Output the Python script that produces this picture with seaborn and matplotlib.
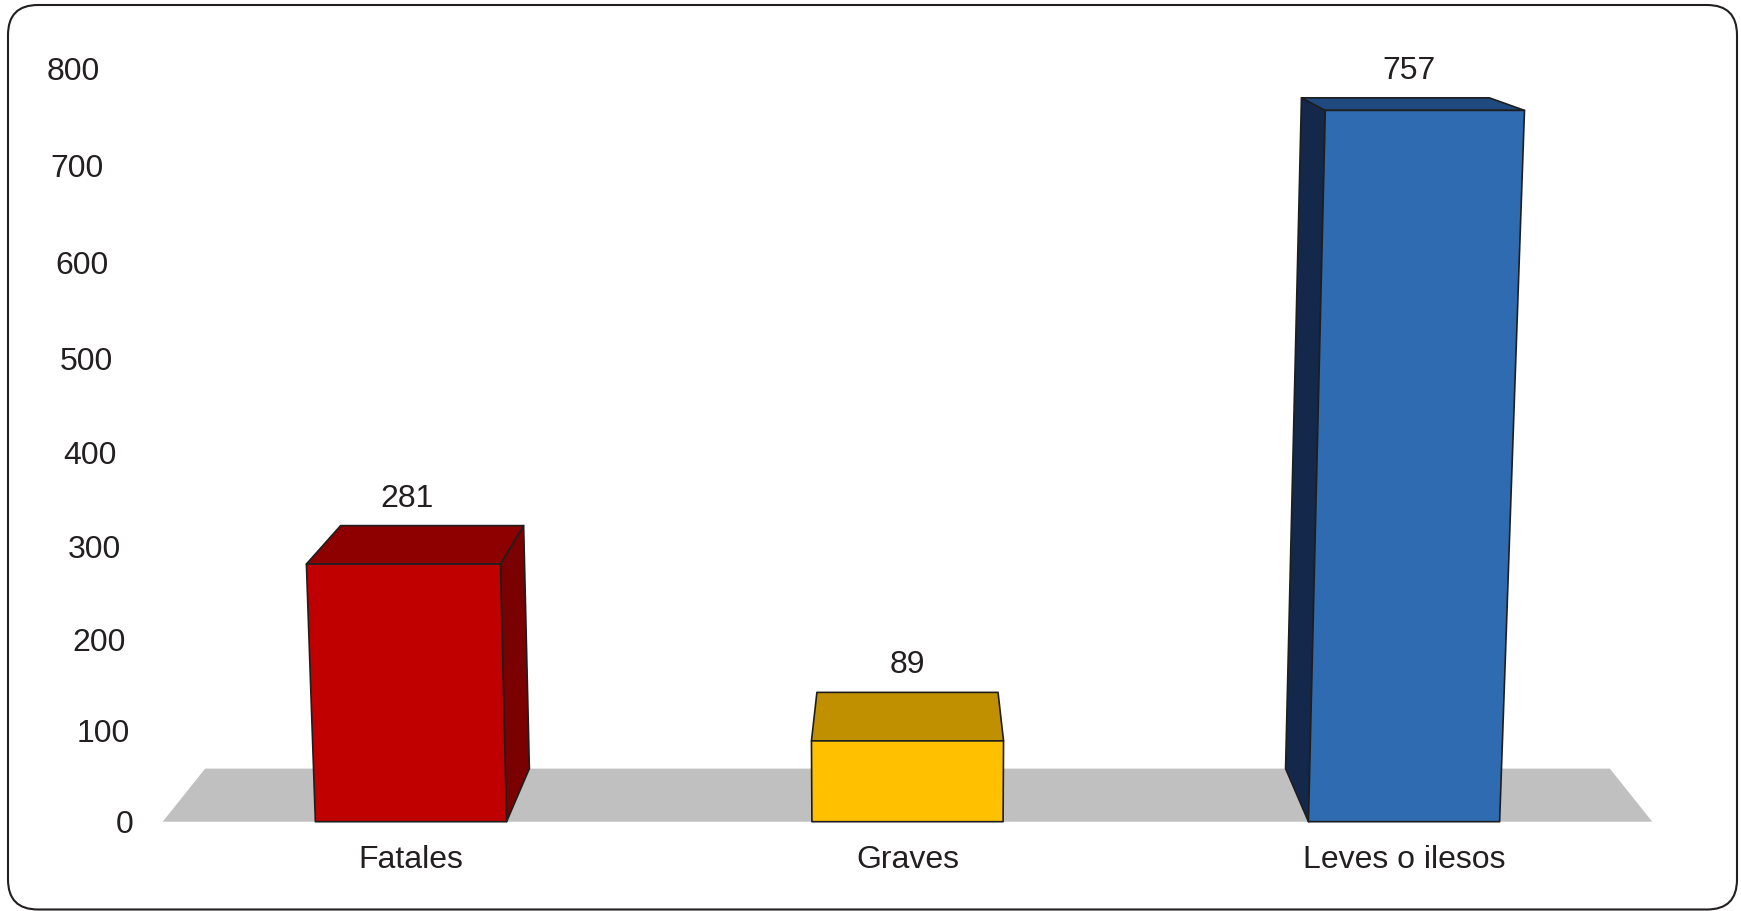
import numpy as np
import pandas as pd
import seaborn as sns
import matplotlib.pyplot as plt
from matplotlib.patches import Polygon, FancyBboxPatch
from matplotlib.transforms import IdentityTransform, Affine2D

# data
categories = ["Fatales", "Graves", "Leves o ilesos"]
values = [281, 89, 757]
y_ticks = [0, 100, 200, 300, 400, 500, 600, 700, 800]

front_colors = ["#C00000", "#FFC000", "#2F6BB0"]
top_colors = ["#8E0000", "#C09000", "#1F4A80"]
side_colors = ["#7B0000", "#A07800", "#13284A"]

W, H, DPI = 1741, 911, 100

# fake 3d perspective (display pixels)
C_PERSP = 5e-5        # foreshortening of the value axis
LEAN = 5.9e-5         # outward lean of vertical edges
DEPTH = 0.943         # back face scale toward the vanishing point
VP = np.array([907.0, H + 110.0])

sns.set_theme(style="white")
plt.rcParams["font.family"] = ["Liberation Sans", "DejaVu Sans"]
text_color = "#231F20"
edge_color = "#1E1E1E"

fig = plt.figure(figsize=(W / DPI, H / DPI), dpi=DPI)
ax = fig.add_axes([162.7 / W, 89.3 / H, 1489.6 / W, 753.4 / H])

df = pd.DataFrame({"tipo": categories, "n": values})
sns.barplot(data=df, x="tipo", y="n", hue="tipo", palette=front_colors,
            width=0.385, legend=False, ax=ax)

ax.set_yscale("function", functions=(lambda v: v / (1 - C_PERSP * v),
                                     lambda u: u / (1 + C_PERSP * u)))
ax.set_xlim(-0.5, 2.5)
ax.set_ylim(0, 800)
ax.set_yticks(y_ticks, labels=[str(t) for t in y_ticks])
ax.set_xlabel("")
ax.set_ylabel("")
ax.grid(False)
for s in ax.spines.values():
    s.set_visible(False)
ax.tick_params(axis="y", length=0, pad=20.7, labelsize=23, labelcolor=text_color)
ax.tick_params(axis="x", length=0, pad=17, labelsize=23, labelcolor=text_color)

base_y = ax.transData.transform((0, 0))[1]


def lean(pts, k=LEAN):
    pts = np.asarray(pts, dtype=float).copy()
    pts[:, 0] = VP[0] + (pts[:, 0] - VP[0]) * (1 + k * (pts[:, 1] - base_y))
    return pts


def push_back(pts):
    return VP + (np.asarray(pts) - VP) * DEPTH


def face(pts, color, edge=True, z=2):
    poly = Polygon(pts, closed=True, facecolor=color,
                   edgecolor=edge_color if edge else "none", lw=1.2,
                   joinstyle="round", transform=IdentityTransform(),
                   clip_on=False, zorder=z)
    ax.add_patch(poly)


# floor
floor_front = ax.transData.transform([(-0.5, 0), (2.5, 0)])
floor_back = push_back(floor_front)
face([floor_front[0], floor_front[1], floor_back[1], floor_back[0]],
     "#C0C0C0", edge=False, z=1)

# bars: front face from seaborn's rectangles, plus side and top faces
for i, p in enumerate(list(ax.patches[:len(values)])):
    x0, w, h = p.get_x(), p.get_width(), p.get_height()
    bl, br, tr, tl = lean(ax.transData.transform(
        [(x0, 0), (x0 + w, 0), (x0 + w, h), (x0, h)]))
    bbl, bbr, btr, btl = push_back([bl, br, tr, tl])
    if br[0] < VP[0]:
        face([br, tr, btr, bbr], side_colors[i])
    elif bl[0] > VP[0]:
        face([bl, tl, btl, bbl], side_colors[i])
    face([tl, tr, btr, btl], top_colors[i])
    face([bl, br, tr, tl], front_colors[i], z=3)
    p.set_visible(False)

    front_mid = (tl[0] + tr[0]) / 2
    lx = 0.65 * front_mid + 0.35 * (btl[0] + btr[0]) / 2
    if abs(front_mid - VP[0]) > 100:
        lx -= 6
    ax.text(lx, btl[1] + 27, str(values[i]), ha="center", va="center",
            fontsize=23, color=text_color, transform=IdentityTransform())

# y tick labels follow the lean of the chart
for v, lab in zip(y_ticks, ax.get_yticklabels()):
    hh = ax.transData.transform((0, v))[1] - base_y
    dx = (134 - VP[0]) * LEAN * hh
    lab.set_transform(lab.get_transform() + Affine2D().translate(dx, 0))

# rounded frame
frame = FancyBboxPatch((8, 1.5), 1729, 904.5,
                       boxstyle="round,pad=0,rounding_size=30",
                       fill=False, ec=text_color, lw=1.5,
                       transform=IdentityTransform())
fig.add_artist(frame)

fig.savefig("out.png", dpi=DPI)
